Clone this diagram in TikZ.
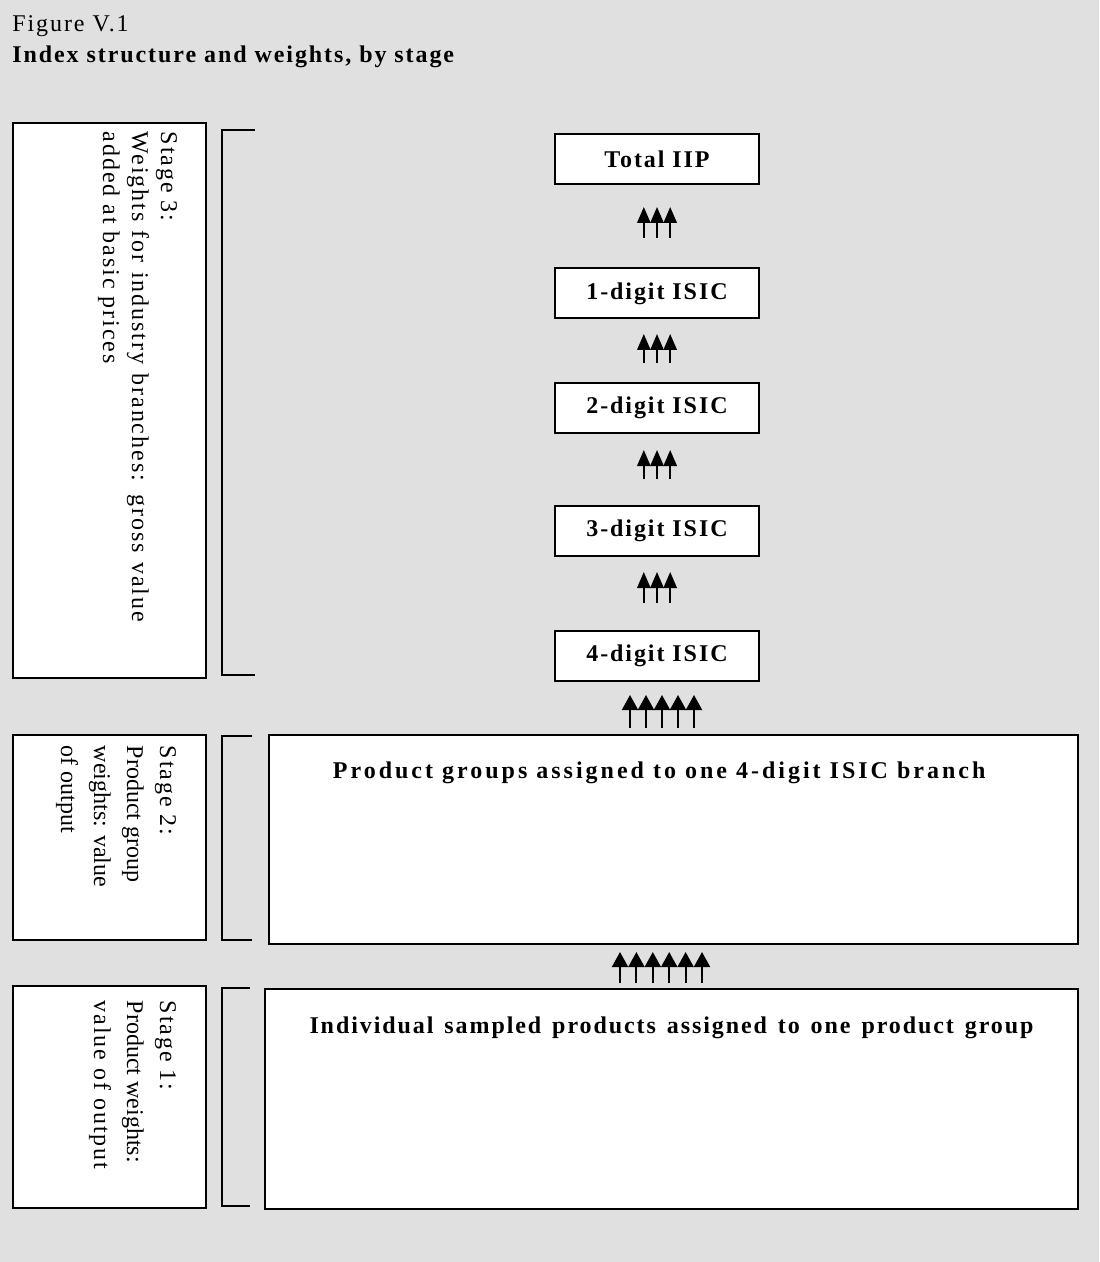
\documentclass[tikz,border=0pt,12pt]{standalone}
\usepackage{fontspec}
\setmainfont{Liberation Serif}
\newfontfamily\spacedfont[LetterSpace=8]{Liberation Serif}
\newfontfamily\widefont[LetterSpace=12.5]{Liberation Serif}
\usepackage{tikz}
\usetikzlibrary{arrows.meta}
\usetikzlibrary{positioning}
\usetikzlibrary{calc}

\definecolor{bggray}{RGB}{224,224,224}

\tikzset{
  box/.style={draw, line width=1pt, fill=white, inner sep=0pt},
  isicbox/.style={box, minimum width=102pt, minimum height=25pt, font=\spacedfont\bfseries},
  stagebox/.style={box, anchor=north west, minimum width=96.5pt},
  stagetext/.style={rotate=-90, anchor=north west, align=left, inner sep=0.75pt, font=\fontsize{12}{16.5}\selectfont},
  bigbox/.style={box, anchor=north west, minimum width=404.5pt},
  bigtext/.style={inner sep=0.75pt, font=\spacedfont\bfseries},
  bracket/.style={line width=1pt},
  uparrow/.style={line width=1pt, -{Triangle[width=6.6pt,length=8pt]}},
  widearrow/.style={line width=1pt, -{Triangle[width=8pt,length=7.5pt]}}
}

\begin{document}
\begin{tikzpicture}[x=0.5pt,y=0.5pt,yscale=-1,xscale=1]
%set diagram size: 1099 x 1262
\fill[bggray] (0,0) rectangle (1099,1262);
\useasboundingbox (0,0) rectangle (1099,1262);

% Title
\node (fig) [anchor=base west, inner sep=0pt, font=\spacedfont] at (12,32) {Figure V.1};
\node (title) [anchor=base west, inner sep=0pt, font=\spacedfont\bfseries] at (12,63) {Index structure and weights, by stage};

%Stage boxes
\node (stage3) [stagebox, minimum height=277.5pt] at (12,122) {};
\node (stage2) [stagebox, minimum height=102.5pt] at (12,734) {};
\node (stage1) [stagebox, minimum height=111pt] at (12,985) {};
\node (stage3txt) [stagetext, font=\spacedfont] at (179,130) {Stage 3:\\\makebox[245pt][s]{Weights for industry branches: gross value}\\added at basic prices};
\node (stage2txt) [stagetext] at (178,744) {{\spacedfont Stage 2:}\\Product group\\weights: value\\of output};
\node (stage1txt) [stagetext] at (178,999) {{\spacedfont Stage 1:}\\Product weights:\\{\spacedfont value of output}};

%Brackets
\draw[bracket] (255,130) -- (222,130) -- (222,675) -- (255,675);
\draw[bracket] (252,736) -- (222,736) -- (222,940) -- (252,940);
\draw[bracket] (250,988) -- (222,988) -- (222,1206) -- (250,1206);

%ISIC boxes
\node (total) [isicbox] at (657,159) {Total IIP};
\node (isic1) [isicbox] at (657,293.5) {1-digit ISIC};
\node (isic2) [isicbox] at (657,407.5) {2-digit ISIC};
\node (isic3) [isicbox] at (657,531) {3-digit ISIC};
\node (isic4) [isicbox] at (657,655.5) {4-digit ISIC};

%Product boxes
\node (groups) [bigbox, minimum height=104.5pt] at (268,734) {};
\node (groupstxt) [bigtext, font=\widefont\bfseries, anchor=base west] at (331,778) {Product groups assigned to one 4-digit ISIC branch};
\node (products) [bigbox, minimum width=406.5pt, minimum height=110pt] at (264,988) {};
\node (productstxt) [bigtext, below=13.5pt of products.north] {\makebox[362pt][s]{Individual sampled products assigned to one product group}};

%Arrow groups
\coordinate (a1) at (657,238);
\coordinate (a2) at (657,363);
\coordinate (a3) at (657,479);
\coordinate (a4) at (657,603);
\coordinate (a5) at (662,728);
\coordinate (a6) at (661,983);
\foreach \p/\len in {a1/31, a2/29, a3/29, a4/31}
  \foreach \i in {-1,0,1}
    \draw[uparrow] ($(\p)+(\i*13.2,0)$) -- ++(0,-\len);
\foreach \i in {-2,...,2}
  \draw[widearrow] ($(a5)+(\i*16,0)$) -- ++(0,-33);
\foreach \i in {-2.5,-1.5,...,2.5}
  \draw[widearrow] ($(a6)+(\i*16.4,0)$) -- ++(0,-31);

\end{tikzpicture}
\end{document}
